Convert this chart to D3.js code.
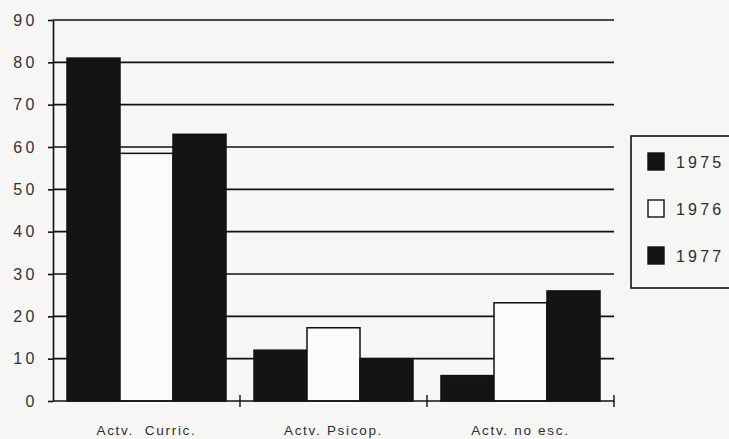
<!DOCTYPE html>
<html>
<head>
<meta charset="utf-8">
<script src="https://cdn.jsdelivr.net/npm/d3@7"></script>
<style>
  html, body { margin: 0; padding: 0; background: #f6f6f4; }
  svg { display: block; }
  text { font-family: "Liberation Sans", Arial, Helvetica, sans-serif; fill: #2e2e2e; }
</style>
</head>
<body>
<script>
const categories = ["Actv.  Curric.", "Actv. Psicop.", "Actv. no esc."];
const seriesNames = ["1975", "1976", "1977"];
const values1975 = [81, 12, 6];
const values1976 = [58.5, 17.3, 23.2];
const values1977 = [63, 10, 26];
const yTicks = [0, 10, 20, 30, 40, 50, 60, 70, 80, 90];
const seriesFill = ["#141414", "#fbfbfa", "#141414"];

(function () {
const W = 729, H = 439;
const pLeft = 53, pRight = 614, pTop = 20, pBottom = 401;

const svg = d3.select("body").append("svg").attr("width", W).attr("height", H);
svg.append("rect").attr("width", W).attr("height", H).attr("fill", "#f6f6f4");

const series = [values1975, values1976, values1977];
const x0 = d3.scaleBand().domain(categories).range([pLeft, pRight]).paddingInner(0).paddingOuter(0);
const x1 = d3.scaleBand().domain(seriesNames).range([0, x0.bandwidth()]).paddingInner(0).paddingOuter(0.264);
const y = d3.scaleLinear().domain([0, 90]).range([pBottom, pTop]);

// gridlines
svg.append("g").selectAll("line").data(yTicks.filter(t => t > 0)).join("line")
  .attr("x1", pLeft).attr("x2", pRight)
  .attr("y1", d => y(d)).attr("y2", d => y(d))
  .attr("stroke", "#111").attr("stroke-width", 1.6);

// bars
const rows = [];
categories.forEach((c, i) => seriesNames.forEach((s, j) => rows.push({c, s, j, v: series[j][i]})));
svg.append("g").selectAll("rect").data(rows).join("rect")
  .attr("x", d => x0(d.c) + x1(d.s))
  .attr("y", d => y(d.v))
  .attr("width", x1.bandwidth())
  .attr("height", d => y(0) - y(d.v))
  .attr("fill", d => seriesFill[d.j])
  .attr("stroke", "#111").attr("stroke-width", 1.5);

// y axis
const yAxis = d3.axisLeft(y).tickValues(yTicks).tickSizeInner(5).tickSizeOuter(0).tickPadding(10);
const gy = svg.append("g").attr("transform", `translate(${pLeft},0)`).call(yAxis);
gy.attr("font-family", null).attr("font-size", null);
gy.select(".domain").attr("stroke", "#111").attr("stroke-width", 1.6);
gy.selectAll(".tick line").attr("stroke", "#111").attr("stroke-width", 1.6);
gy.selectAll(".tick text").attr("font-size", 16).attr("letter-spacing", 3.5).style("fill", "#333");

// x axis
svg.append("line").attr("x1", pLeft).attr("x2", pRight).attr("y1", y(0)).attr("y2", y(0))
  .attr("stroke", "#111").attr("stroke-width", 1.6);
const bounds = categories.slice(1).map(c => x0(c)).concat([x0.range()[1]]);
svg.append("g").selectAll("line").data(bounds).join("line")
  .attr("x1", d => d).attr("x2", d => d)
  .attr("y1", y(0) - 6).attr("y2", y(0) + 6)
  .attr("stroke", "#111").attr("stroke-width", 1.4);
svg.append("g").selectAll("text").data(categories).join("text")
  .attr("x", d => x0(d) + x0.bandwidth() / 2)
  .attr("y", 434.5)
  .attr("text-anchor", "middle")
  .attr("font-size", 13.5).attr("letter-spacing", 1.7)
  .style("white-space", "pre")
  .text(d => d);

// legend
const lg = svg.append("g");
lg.append("rect").attr("x", 631).attr("y", 136).attr("width", 110).attr("height", 152)
  .attr("fill", "#f6f6f4").attr("stroke", "#111").attr("stroke-width", 1.6);
const ly = d3.scalePoint().domain(seriesNames).range([161, 255]);
lg.selectAll("rect.sw").data(seriesNames).join("rect").attr("class", "sw")
  .attr("x", 648).attr("y", d => ly(d) - 8).attr("width", 16).attr("height", 17)
  .attr("fill", (d, i) => seriesFill[i]).attr("stroke", "#111").attr("stroke-width", 1.4);
lg.selectAll("text").data(seriesNames).join("text")
  .attr("x", 676).attr("y", d => ly(d) + 7)
  .attr("font-size", 16).attr("letter-spacing", 3.2)
  .text(d => d);
})();
</script>
</body>
</html>
